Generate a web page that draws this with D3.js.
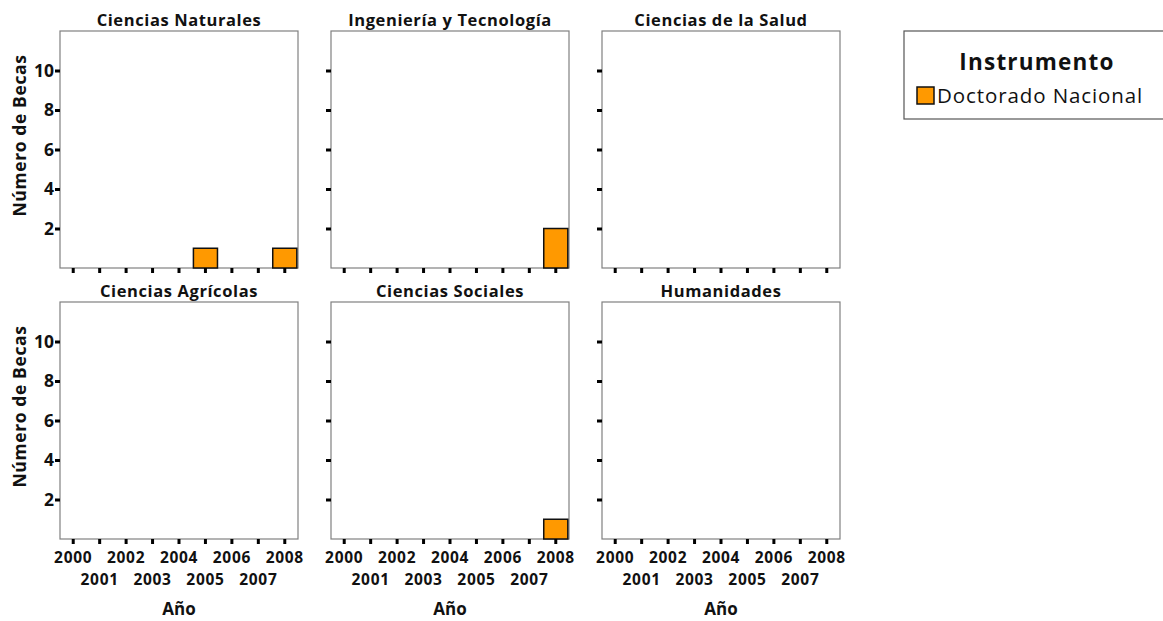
<!DOCTYPE html>
<html>
<head>
<meta charset="utf-8">
<script src="https://cdn.jsdelivr.net/npm/d3@7"></script>
<style>
  body { margin: 0; background: #fff; }
  svg { font-family: "Open Sans", sans-serif; }
</style>
</head>
<body>
<div id="chart"></div>
<script>
const years = ['2000', '2001', '2002', '2003', '2004', '2005', '2006', '2007', '2008'];
const areas = ['Ciencias Naturales', 'Ingeniería y Tecnología', 'Ciencias de la Salud',
    'Ciencias Agrícolas', 'Ciencias Sociales', 'Humanidades'];
// becas de Doctorado Nacional por área, una lista por año
const doctoradoNacional = [
    [0, 0, 0, 0, 0, 1, 0, 0, 1],
    [0, 0, 0, 0, 0, 0, 0, 0, 2],
    [0, 0, 0, 0, 0, 0, 0, 0, 0],
    [0, 0, 0, 0, 0, 0, 0, 0, 0],
    [0, 0, 0, 0, 0, 0, 0, 0, 1],
    [0, 0, 0, 0, 0, 0, 0, 0, 0]
];
const yTicks = [2, 4, 6, 8, 10];
const legendTitle = 'Instrumento';
const seriesName = 'Doctorado Nacional';

const settings = {
    width: 1163,
    height: 621,
    panelW: 238,
    panelH: 237,
    colX: [60, 331, 602],
    rowY: [31, 302],
    barColor: '#ff9900'
};

const svg = d3.select('#chart')
    .append('svg')
    .attr('width', settings.width)
    .attr('height', settings.height);

const x = d3.scaleBand()
    .domain(years)
    .range([0, settings.panelW])
    .paddingInner(0.09)
    .paddingOuter(0.045);

const y = d3.scaleLinear()
    .domain([0, 12])
    .range([settings.panelH, 0]);

areas.forEach((area, i) => {
    const col = i % 3;
    const row = Math.floor(i / 3);
    const g = svg.append('g')
        .attr('transform', `translate(${settings.colX[col]},${settings.rowY[row]})`);

    g.append('rect')
        .attr('width', settings.panelW)
        .attr('height', settings.panelH)
        .attr('fill', '#fff')
        .attr('stroke', '#808080')
        .attr('stroke-width', 1.2);

    g.append('text')
        .attr('x', settings.panelW / 2)
        .attr('y', -5)
        .attr('text-anchor', 'middle')
        .attr('font-size', 16.5)
        .attr('font-weight', 'bold')
        .attr('letter-spacing', 0.6)
        .attr('fill', '#111')
        .text(area);

    const vals = doctoradoNacional[i].map((v, j) => ({ year: years[j], value: v }))
        .filter(d => d.value > 0);

    g.selectAll('.bar')
        .data(vals)
        .enter()
        .append('rect')
        .attr('class', 'bar')
        .attr('x', d => x(d.year))
        .attr('y', d => y(d.value))
        .attr('width', x.bandwidth())
        .attr('height', d => y(0) - y(d.value))
        .attr('fill', settings.barColor)
        .attr('stroke', '#111')
        .attr('stroke-width', 1.5);

    // y axis
    const yAxis = d3.axisLeft(y)
        .tickValues(yTicks)
        .tickSize(5)
        .tickPadding(1)
        .tickFormat(col === 0 ? d3.format('d') : () => '');
    const ya = g.append('g').call(yAxis);
    ya.select('.domain').remove();
    ya.selectAll('line').attr('stroke', '#000').attr('stroke-width', 3);
    ya.selectAll('text')
        .attr('font-size', 17.5)
        .attr('font-weight', 'bold')
        .attr('font-family', '"Open Sans", sans-serif')
        .attr('fill', '#111');

    // x axis
    const xAxis = d3.axisBottom(x)
        .tickSize(5)
        .tickFormat(row === 1 ? (d => d) : () => '');
    const xa = g.append('g')
        .attr('transform', `translate(0,${settings.panelH})`)
        .call(xAxis);
    xa.select('.domain').remove();
    xa.selectAll('line').attr('stroke', '#000').attr('stroke-width', 3);
    xa.selectAll('text')
        .attr('font-size', 15.5)
        .attr('font-weight', 'bold')
        .attr('font-family', '"Open Sans", sans-serif')
        .attr('letter-spacing', 0.7)
        .attr('fill', '#111')
        .attr('y', (d, j) => j % 2 === 0 ? 13 : 35);

    if (row === 1) {
        g.append('text')
            .attr('x', settings.panelW / 2)
            .attr('y', settings.panelH + 76)
            .attr('text-anchor', 'middle')
            .attr('font-size', 17)
            .attr('font-weight', 'bold')
            .attr('fill', '#111')
            .text('Año');
    }

    if (col === 0) {
        g.append('text')
            .attr('transform', `translate(-34,${settings.panelH / 2 - 14}) rotate(-90)`)
            .attr('text-anchor', 'middle')
            .attr('font-size', 17.5)
            .attr('font-weight', 'bold')
            .attr('letter-spacing', 0.6)
            .attr('fill', '#111')
            .text('Número de Becas');
    }
});

// leyenda
const legend = svg.append('g').attr('transform', 'translate(904,31)');
legend.append('rect')
    .attr('width', 270)
    .attr('height', 88)
    .attr('fill', '#fff')
    .attr('stroke', '#555')
    .attr('stroke-width', 1.2);
legend.append('text')
    .attr('x', 133)
    .attr('y', 39)
    .attr('text-anchor', 'middle')
    .attr('font-size', 22.5)
    .attr('font-weight', 'bold')
    .attr('letter-spacing', 1.2)
    .attr('fill', '#111')
    .text(legendTitle);
legend.append('rect')
    .attr('x', 13)
    .attr('y', 56)
    .attr('width', 17)
    .attr('height', 17)
    .attr('fill', settings.barColor)
    .attr('stroke', '#111')
    .attr('stroke-width', 1.5);
legend.append('text')
    .attr('x', 33)
    .attr('y', 72)
    .attr('font-size', 20.5)
    .attr('letter-spacing', 0.9)
    .attr('fill', '#111')
    .text(seriesName);
</script>
</body>
</html>
